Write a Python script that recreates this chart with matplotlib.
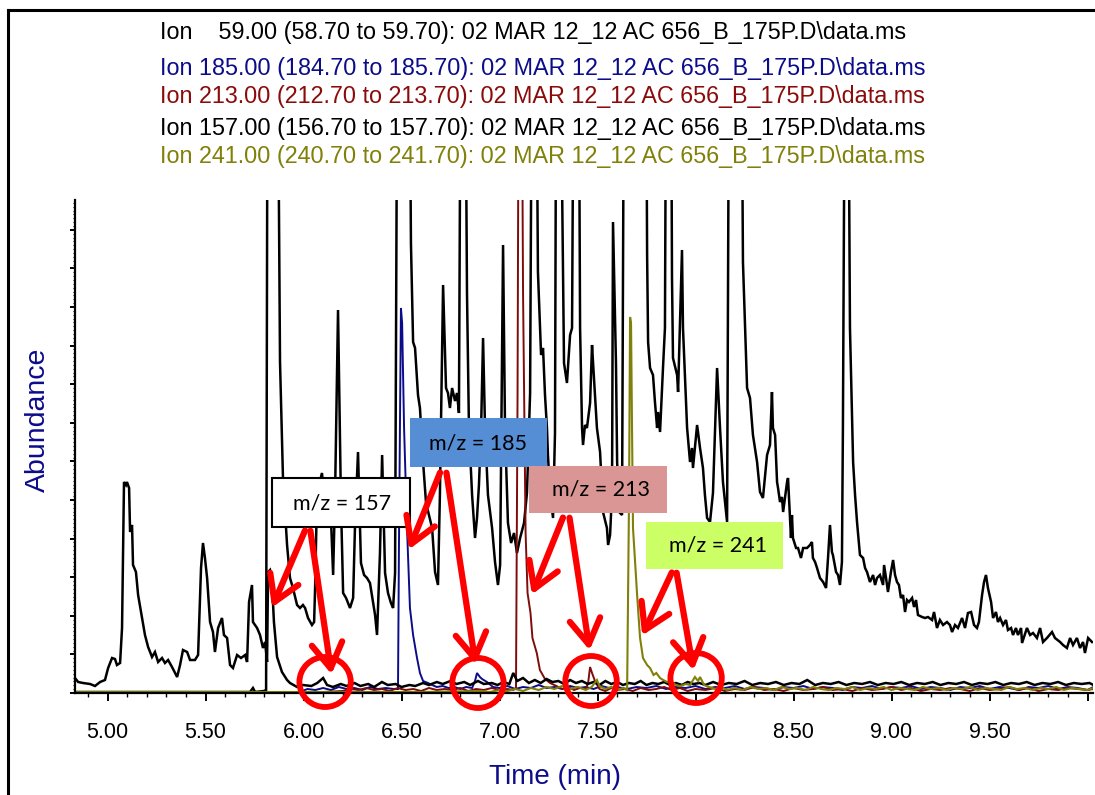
import numpy as np
import matplotlib
matplotlib.use("Agg")
import matplotlib.pyplot as plt
from matplotlib.patches import Rectangle, Ellipse, FancyArrowPatch
from matplotlib.lines import Line2D
from matplotlib.ticker import MultipleLocator, AutoMinorLocator, FuncFormatter

plt.rcParams["font.family"] = ["Liberation Sans", "DejaVu Sans"]

# ---- data (time in min, abundance in arbitrary units) ----
# Ion 59 (black, big trace)
ion59 = [
    (4.834, 1), (5.217, 1), (5.727, 1), (5.742, 5), (5.753, 1), (5.798, 2), (5.809, 3),
    (5.819, 900), (5.839, 1400), (5.860, 900), (5.880, 331), (5.895, 216), (5.911, 165),
    (5.916, 148), (5.931, 115), (5.946, 105), (5.967, 88), (5.982, 85), (5.997, 88),
    (6.008, 85), (6.023, 75), (6.043, 68), (6.054, 71), (6.059, 105), (6.069, 200),
    (6.094, 220), (6.115, 180), (6.135, 200), (6.151, 118), (6.161, 200), (6.176, 383),
    (6.191, 190), (6.202, 100), (6.217, 95), (6.237, 85), (6.253, 95), (6.263, 170),
    (6.278, 241), (6.293, 130), (6.309, 118), (6.324, 115), (6.339, 110), (6.355, 90),
    (6.365, 78), (6.375, 58), (6.390, 140), (6.401, 238), (6.416, 120), (6.431, 100),
    (6.446, 90), (6.457, 85), (6.467, 120), (6.477, 600), (6.492, 1300), (6.513, 1300),
    (6.533, 900), (6.548, 450), (6.559, 351), (6.569, 345), (6.584, 298), (6.594, 285),
    (6.610, 231), (6.625, 190), (6.635, 182), (6.656, 165), (6.671, 121), (6.686, 108),
    (6.696, 200), (6.712, 408), (6.727, 305), (6.737, 300), (6.747, 285), (6.758, 305),
    (6.773, 292), (6.783, 300), (6.793, 280), (6.798, 500), (6.809, 1100), (6.824, 700),
    (6.834, 400), (6.844, 265), (6.860, 198), (6.875, 155), (6.885, 175), (6.895, 208),
    (6.906, 265), (6.916, 355), (6.926, 265), (6.941, 198), (6.962, 165), (6.977, 131),
    (6.992, 108), (7.003, 128), (7.018, 448), (7.028, 265), (7.043, 170), (7.059, 150),
    (7.074, 160), (7.089, 140), (7.105, 155), (7.125, 170), (7.140, 200), (7.156, 300),
    (7.171, 900), (7.186, 700), (7.196, 421), (7.212, 338), (7.222, 345), (7.232, 298),
    (7.242, 265), (7.247, 238), (7.258, 200), (7.273, 175), (7.283, 260), (7.293, 900),
    (7.314, 600), (7.329, 330), (7.344, 310), (7.360, 358), (7.370, 365), (7.385, 900),
    (7.401, 800), (7.411, 365), (7.421, 265), (7.426, 248), (7.436, 268), (7.446, 265),
    (7.462, 290), (7.472, 348), (7.477, 331), (7.497, 265), (7.513, 241), (7.528, 181),
    (7.548, 165), (7.554, 148), (7.564, 158), (7.574, 200), (7.579, 471), (7.594, 331),
    (7.600, 231), (7.610, 181), (7.625, 178), (7.640, 900), (7.666, 1300), (7.717, 1300),
    (7.742, 900), (7.753, 438), (7.758, 351), (7.768, 325), (7.783, 318), (7.793, 291),
    (7.804, 265), (7.809, 281), (7.819, 261), (7.834, 325), (7.844, 365), (7.855, 900),
    (7.870, 900), (7.880, 415), (7.885, 335), (7.906, 318), (7.911, 301), (7.921, 371),
    (7.931, 443), (7.936, 365), (7.957, 265), (7.972, 231), (7.982, 245), (7.987, 225),
    (8.008, 268), (8.023, 245), (8.038, 225), (8.048, 198), (8.059, 175), (8.074, 171),
    (8.089, 200), (8.110, 325), (8.125, 265), (8.140, 211), (8.161, 171), (8.176, 900),
    (8.202, 1200), (8.227, 900), (8.242, 431), (8.263, 305), (8.278, 295), (8.293, 258),
    (8.314, 231), (8.329, 201), (8.344, 195), (8.365, 238), (8.380, 248), (8.390, 301),
    (8.395, 265), (8.406, 258), (8.416, 211), (8.421, 205), (8.431, 191), (8.441, 196),
    (8.447, 181), (8.467, 211), (8.472, 215), (8.487, 155), (8.492, 178), (8.497, 155),
    (8.513, 145), (8.523, 145), (8.538, 135), (8.549, 145), (8.569, 145), (8.584, 148),
    (8.594, 151), (8.599, 135), (8.610, 131), (8.620, 125), (8.635, 115), (8.651, 111),
    (8.666, 105), (8.676, 135), (8.686, 168), (8.696, 141), (8.701, 138), (8.717, 121),
    (8.727, 118), (8.737, 108), (8.747, 131), (8.752, 265), (8.763, 700), (8.778, 700),
    (8.788, 365), (8.804, 231), (8.814, 198), (8.824, 171), (8.839, 138), (8.855, 135),
    (8.865, 125), (8.875, 121), (8.890, 111), (8.906, 118), (8.916, 108), (8.926, 115),
    (8.941, 118), (8.957, 108), (8.962, 128), (8.972, 115), (8.982, 101), (8.997, 121),
    (9.008, 133), (9.018, 118), (9.028, 111), (9.038, 108), (9.048, 95), (9.059, 98),
    (9.069, 81), (9.079, 93), (9.089, 91), (9.105, 95), (9.115, 86), (9.125, 93),
    (9.135, 78), (9.156, 76), (9.171, 75), (9.186, 76), (9.207, 73), (9.217, 81),
    (9.232, 65), (9.247, 73), (9.263, 68), (9.283, 71), (9.298, 68), (9.309, 61),
    (9.324, 68), (9.339, 65), (9.360, 75), (9.375, 65), (9.390, 80), (9.406, 81),
    (9.421, 68), (9.436, 65), (9.446, 71), (9.462, 98), (9.472, 111), (9.482, 118),
    (9.492, 105), (9.508, 91), (9.518, 75), (9.533, 81), (9.543, 71), (9.554, 75),
    (9.569, 68), (9.584, 73), (9.594, 63), (9.610, 65), (9.620, 58), (9.635, 65),
    (9.645, 58), (9.661, 65), (9.666, 50), (9.691, 65), (9.707, 58), (9.722, 60),
    (9.742, 55), (9.758, 65), (9.773, 51), (9.793, 55), (9.819, 61), (9.834, 55),
    (9.860, 51), (9.875, 48), (9.895, 45), (9.911, 55), (9.926, 48), (9.946, 55),
    (9.962, 45), (9.977, 51), (9.987, 40), (10.003, 55), (10.023, 51),
]

# Ion 185 (blue)
ion185 = [
    (4.83, 1), (5.40, 1), (5.98, 1), (6.02, 4), (6.06, 3), (6.10, 5), (6.14, 3), (6.18, 6),
    (6.22, 4), (6.26, 5), (6.30, 3), (6.34, 6), (6.38, 4), (6.42, 5), (6.46, 4), (6.482, 4),
    (6.487, 150), (6.497, 385), (6.503, 370), (6.513, 265), (6.528, 165), (6.533, 138),
    (6.543, 85), (6.559, 58), (6.579, 35), (6.594, 20), (6.610, 12), (6.635, 10), (6.656, 8),
    (6.68, 6), (6.71, 7), (6.74, 5), (6.77, 6), (6.80, 4), (6.83, 6), (6.86, 5), (6.875, 12),
    (6.885, 20), (6.90, 16), (6.911, 14), (6.936, 11), (6.967, 6), (7.00, 5), (7.04, 7),
    (7.08, 4), (7.12, 6), (7.16, 5), (7.20, 8), (7.24, 5), (7.28, 6), (7.32, 4), (7.36, 7),
    (7.40, 5), (7.44, 6), (7.48, 4), (7.52, 7), (7.56, 5), (7.60, 6), (7.65, 4), (7.70, 6),
    (7.75, 5), (7.80, 7), (7.85, 4), (7.90, 6), (7.95, 5), (8.00, 7), (8.05, 4), (8.10, 6),
    (8.15, 5), (8.20, 7), (8.25, 4), (8.30, 6), (8.35, 5), (8.40, 3), (8.45, 6), (8.50, 5),
    (8.55, 7), (8.60, 4), (8.65, 6), (8.70, 5), (8.75, 3), (8.80, 6), (8.85, 5), (8.90, 7),
    (8.95, 4), (9.00, 6), (9.05, 5), (9.10, 7), (9.15, 4), (9.20, 6), (9.25, 5), (9.30, 3),
    (9.35, 6), (9.40, 5), (9.45, 7), (9.50, 4), (9.55, 6), (9.60, 5), (9.65, 3), (9.70, 6),
    (9.75, 5), (9.80, 7), (9.85, 4), (9.90, 6), (9.95, 5), (10.00, 3), (10.03, 6),
]

# Ion 213 (maroon)
ion213 = [
    (4.83, 1), (5.50, 1), (6.10, 1), (6.20, 2), (6.24, 4), (6.28, 3), (6.32, 5), (6.36, 3),
    (6.40, 4), (6.44, 2), (6.48, 5), (6.52, 3), (6.56, 4), (6.60, 2), (6.64, 5), (6.68, 3),
    (6.72, 4), (6.76, 3), (6.80, 5), (6.84, 2), (6.88, 4), (6.92, 3), (6.96, 5), (7.00, 3),
    (7.04, 4), (7.07, 3), (7.084, 5), (7.092, 300), (7.100, 800), (7.112, 700), (7.120, 400),
    (7.133, 160), (7.143, 100), (7.158, 80), (7.168, 55), (7.19, 40), (7.206, 23),
    (7.232, 14), (7.258, 10), (7.29, 7), (7.32, 4), (7.35, 6), (7.38, 3), (7.41, 5),
    (7.44, 4), (7.452, 10), (7.462, 26), (7.472, 20), (7.487, 12), (7.51, 4), (7.54, 2),
    (7.57, 5), (7.60, 3), (7.64, 4), (7.68, 2), (7.72, 5), (7.76, 3), (7.80, 4), (7.84, 6),
    (7.88, 3), (7.92, 5), (7.96, 2), (8.00, 4), (8.05, 3), (8.10, 5), (8.15, 2), (8.20, 4),
    (8.25, 3), (8.30, 6), (8.35, 3), (8.40, 4), (8.45, 2), (8.50, 5), (8.55, 3), (8.60, 4),
    (8.65, 6), (8.70, 3), (8.75, 4), (8.80, 2), (8.85, 5), (8.90, 3), (8.95, 4), (9.00, 6),
    (9.05, 3), (9.10, 5), (9.15, 2), (9.20, 4), (9.25, 3), (9.30, 5), (9.35, 4), (9.40, 2),
    (9.45, 5), (9.50, 3), (9.55, 4), (9.60, 6), (9.65, 3), (9.70, 5), (9.75, 2), (9.80, 4),
    (9.85, 3), (9.90, 5), (9.95, 4), (10.00, 3), (10.03, 4),
]

# Ion 157 (black, lower trace)
ion157 = [
    (4.834, 15), (4.850, 11), (4.875, 10), (4.911, 9), (4.936, 7), (4.962, 11), (4.987, 13),
    (5.003, 25), (5.023, 35), (5.038, 34), (5.048, 28), (5.064, 30), (5.074, 65),
    (5.084, 211), (5.094, 208), (5.099, 211), (5.110, 205), (5.115, 161), (5.125, 168),
    (5.130, 128), (5.145, 121), (5.156, 98), (5.176, 75), (5.191, 58), (5.207, 46),
    (5.227, 36), (5.242, 41), (5.258, 31), (5.278, 35), (5.293, 30), (5.309, 33),
    (5.329, 26), (5.355, 16), (5.370, 28), (5.385, 43), (5.406, 41), (5.421, 33),
    (5.446, 33), (5.462, 38), (5.477, 125), (5.487, 150), (5.497, 135), (5.508, 115),
    (5.523, 71), (5.538, 61), (5.548, 41), (5.564, 65), (5.584, 75), (5.594, 58),
    (5.610, 55), (5.625, 28), (5.640, 25), (5.661, 38), (5.681, 35), (5.702, 38),
    (5.712, 31), (5.722, 91), (5.737, 108), (5.742, 71), (5.763, 65), (5.778, 58),
    (5.793, 45), (5.804, 51), (5.814, 31), (5.819, 121), (5.829, 123), (5.839, 111),
    (5.849, 71), (5.865, 36), (5.890, 21), (5.916, 13), (5.931, 10), (5.967, 6),
    (5.997, 8), (6.04, 7), (6.07, 10), (6.10, 15), (6.12, 8), (6.15, 6), (6.19, 9),
    (6.22, 7), (6.26, 10), (6.29, 7), (6.33, 9), (6.36, 6), (6.40, 11), (6.43, 8),
    (6.47, 9), (6.50, 6), (6.54, 8), (6.57, 7), (6.61, 10), (6.64, 8), (6.68, 11),
    (6.71, 9), (6.75, 12), (6.78, 9), (6.82, 11), (6.85, 8), (6.89, 12), (6.92, 9),
    (6.96, 10), (6.99, 8), (7.02, 11), (7.05, 9), (7.07, 20), (7.09, 12), (7.12, 15),
    (7.15, 10), (7.18, 13), (7.21, 10), (7.24, 14), (7.27, 11), (7.30, 12), (7.33, 9),
    (7.36, 13), (7.39, 10), (7.42, 12), (7.45, 9), (7.48, 11), (7.51, 8), (7.54, 12),
    (7.57, 9), (7.60, 11), (7.63, 8), (7.66, 10), (7.69, 9), (7.72, 12), (7.75, 8),
    (7.78, 10), (7.81, 9), (7.84, 11), (7.87, 8), (7.90, 10), (7.93, 8), (7.96, 11),
    (7.99, 9), (8.02, 10), (8.05, 8), (8.09, 11), (8.13, 8), (8.17, 10), (8.21, 9),
    (8.25, 12), (8.29, 8), (8.33, 10), (8.37, 9), (8.41, 11), (8.45, 8), (8.49, 10),
    (8.53, 9), (8.57, 13), (8.61, 8), (8.65, 10), (8.69, 9), (8.73, 11), (8.77, 8),
    (8.81, 10), (8.85, 9), (8.89, 11), (8.93, 8), (8.97, 10), (9.01, 9), (9.05, 11),
    (9.09, 8), (9.13, 10), (9.17, 9), (9.21, 11), (9.25, 8), (9.29, 10), (9.33, 9),
    (9.37, 11), (9.41, 8), (9.45, 10), (9.49, 9), (9.53, 11), (9.57, 8), (9.61, 10),
    (9.65, 9), (9.69, 11), (9.73, 8), (9.77, 10), (9.81, 9), (9.85, 11), (9.89, 8),
    (9.93, 10), (9.97, 9), (10.01, 10), (10.03, 8),
]

# Ion 241 (olive)
ion241 = [
    (4.83, 1), (5.30, 1), (5.80, 1), (6.20, 1), (6.60, 1), (6.90, 2), (6.95, 1), (7.00, 3),
    (7.04, 2), (7.08, 4), (7.12, 2), (7.16, 5), (7.20, 3), (7.24, 6), (7.28, 4), (7.32, 7),
    (7.36, 4), (7.40, 6), (7.44, 3), (7.47, 6), (7.497, 13), (7.51, 7), (7.54, 4), (7.57, 6),
    (7.60, 3), (7.63, 5), (7.651, 3), (7.661, 200), (7.666, 376), (7.671, 370), (7.676, 265),
    (7.681, 165), (7.702, 98), (7.717, 55), (7.732, 35), (7.753, 28), (7.768, 25),
    (7.786, 18), (7.80, 20), (7.819, 15), (7.835, 13), (7.855, 11), (7.870, 12), (7.885, 10),
    (7.90, 8), (7.921, 7), (7.95, 9), (7.972, 8), (7.997, 16), (8.013, 12), (8.023, 16),
    (8.044, 8), (8.07, 6), (8.10, 4), (8.13, 6), (8.16, 3), (8.20, 5), (8.24, 3), (8.28, 6),
    (8.32, 4), (8.36, 5), (8.40, 3), (8.44, 6), (8.48, 4), (8.52, 5), (8.56, 3), (8.60, 6),
    (8.64, 4), (8.68, 3), (8.72, 5), (8.76, 4), (8.80, 6), (8.84, 3), (8.88, 5), (8.92, 4),
    (8.96, 6), (9.00, 3), (9.04, 5), (9.08, 4), (9.12, 3), (9.16, 6), (9.20, 4), (9.24, 5),
    (9.28, 3), (9.32, 5), (9.36, 4), (9.40, 6), (9.44, 3), (9.48, 5), (9.52, 4), (9.56, 3),
    (9.60, 6), (9.64, 4), (9.68, 5), (9.72, 3), (9.76, 5), (9.80, 4), (9.84, 6), (9.88, 3),
    (9.92, 5), (9.96, 4), (10.00, 3), (10.03, 5),
]

legend_lines = [
    "Ion    59.00 (58.70 to 59.70): 02 MAR 12_12 AC 656_B_175P.D\\data.ms",
    "Ion 185.00 (184.70 to 185.70): 02 MAR 12_12 AC 656_B_175P.D\\data.ms",
    "Ion 213.00 (212.70 to 213.70): 02 MAR 12_12 AC 656_B_175P.D\\data.ms",
    "Ion 157.00 (156.70 to 157.70): 02 MAR 12_12 AC 656_B_175P.D\\data.ms",
    "Ion 241.00 (240.70 to 241.70): 02 MAR 12_12 AC 656_B_175P.D\\data.ms",
]
legend_colors = ["black", "#0c0c8a", "#8b0b0b", "black", "#80800a"]
legend_y = [33, 68, 97, 128, 157]

# callouts: label, box (x0, y0, w, h), face, text pos, arrow targets, circle centre
callouts = [
    ("m/z = 157", (5.839, 166, 0.704, 49), "white", (6.196, 190),
     [((6.013, 165), (5.834, 83)), ((6.033, 165), (6.145, 16))], (6.110, 11)),
    ("m/z = 185", (6.543, 226, 0.699, 49), "#558ed5", (6.890, 250),
     [((6.702, 223), (6.533, 141)), ((6.727, 223), (6.880, 26))], (6.890, 10)),
    ("m/z = 213", (7.150, 180, 0.704, 47), "#d99694", (7.518, 204),
     [((7.329, 178), (7.160, 96)), ((7.355, 178), (7.462, 40))], (7.467, 12)),
    ("m/z = 241", (7.747, 124, 0.699, 47), "#ccff66", (8.115, 147),
     [((7.885, 123), (7.722, 55)), ((7.901, 123), (7.992, 20))], (8.003, 15)),
]

# ---- figure ----
W, H = 1095, 795
fig = plt.figure(figsize=(W / 100, H / 100), dpi=100)
ax = fig.add_axes([75 / W, 1 - 693 / H, 1018 / W, 493 / H])

series = [(ion59, "black", 1.8), (ion185, "#0c0c8a", 1.4), (ion213, "#7f0b0b", 1.4),
          (ion157, "black", 1.8), (ion241, "#80800a", 1.5)]
for data, col, lw in series:
    arr = np.array(data)
    ax.plot(arr[:, 0], arr[:, 1], color=col, lw=lw, solid_joinstyle="miter")

ax.set_xlim(4.834, 10.028)
ax.set_ylim(0, 493)
for s in ["top", "right"]:
    ax.spines[s].set_visible(False)
for s in ["left", "bottom"]:
    ax.spines[s].set_linewidth(1.6)

ax.xaxis.set_major_locator(MultipleLocator(0.5))
ax.xaxis.set_minor_locator(MultipleLocator(0.1))
ax.xaxis.set_major_formatter(FuncFormatter(lambda v, p: "%.2f" % v if v < 9.9 else ""))
ax.yaxis.set_major_locator(MultipleLocator(38.6))
ax.yaxis.set_minor_locator(AutoMinorLocator(10))
ax.set_yticklabels([])
ax.tick_params(axis="x", which="major", direction="out", length=6, width=1.4,
               labelsize=15.5, pad=15)
ax.tick_params(axis="x", which="minor", direction="out", length=3, width=1.0)
ax.tick_params(axis="y", which="major", direction="out", length=3.5, width=1.4)
ax.tick_params(axis="y", which="minor", direction="out", length=1.5, width=0.8)

fig.text(555 / W, 1 - 777 / H, "Time (min)", color="#0c0c8a", fontsize=20,
         ha="center", va="center")
fig.text(38 / W, 1 - 420 / H, "Abundance", color="#0c0c8a", fontsize=20.5,
         rotation=90, ha="center", va="center")

for txt, col, yy in zip(legend_lines, legend_colors, legend_y):
    fig.text(160 / W, 1 - yy / H, txt, color=col, fontsize=16.8, ha="left", va="center")

# callout boxes, arrows and circles
for label, (x0, y0, bw, bh), face, (tx, ty), arrows, (cx, cy) in callouts:
    edge = "black" if face == "white" else "none"
    ax.add_patch(Rectangle((x0, y0), bw, bh, facecolor=face, edgecolor=edge,
                           lw=1.5, zorder=5))
    ax.text(tx, ty, label, fontsize=15.5, family=["Lato", "DejaVu Sans"],
            ha="center", va="center", zorder=6)
    for start, end in arrows:
        ax.add_patch(FancyArrowPatch(start, end, arrowstyle="->,head_length=0.9,head_width=0.55",
                                     mutation_scale=20, color="#ff0000", lw=4.5,
                                     zorder=7, clip_on=False))
    ax.add_patch(Ellipse((cx, cy), 0.262, 50, fill=False, edgecolor="#ff0000",
                         lw=4.2, zorder=7, clip_on=False))

# outer frame lines (top and left)
fig.add_artist(Line2D([8 / W, 1.0], [1 - 10 / H, 1 - 10 / H], color="black", lw=2.2))
fig.add_artist(Line2D([8 / W, 8 / W], [0, 1 - 10 / H], color="black", lw=2.2))

fig.savefig("out.png", dpi=100)
